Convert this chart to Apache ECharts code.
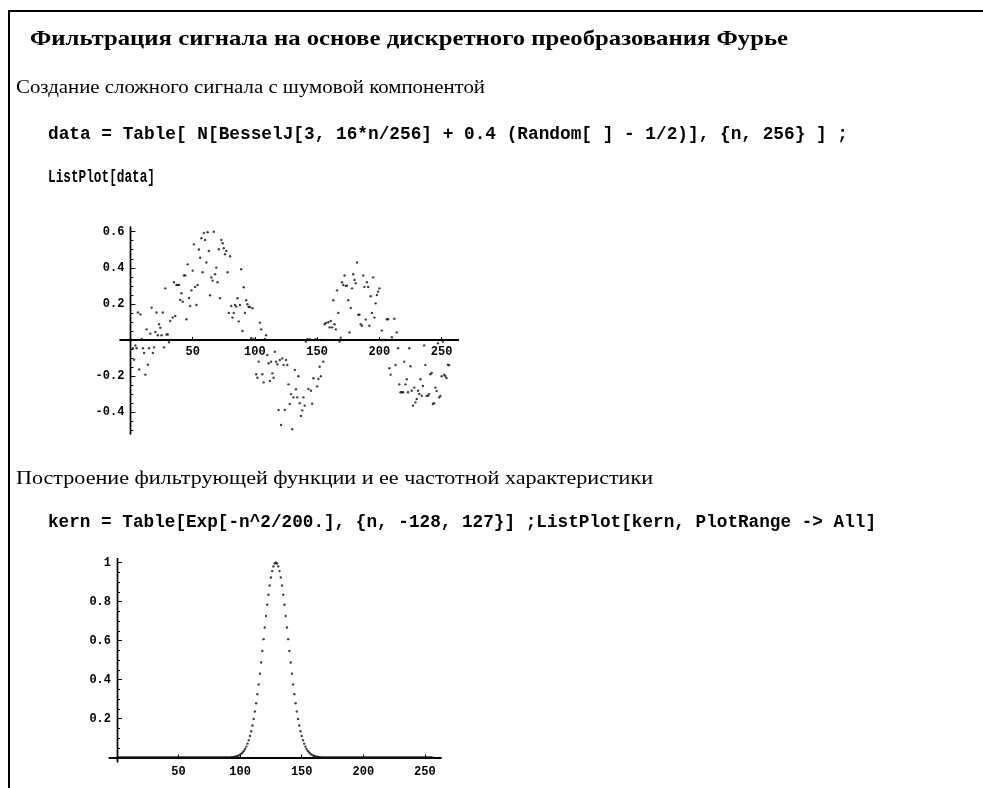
<!DOCTYPE html>
<html>
<head>
<meta charset="utf-8">
<script src="https://cdn.jsdelivr.net/npm/echarts@6/dist/echarts.min.js"></script>
<style>
  html, body { margin: 0; padding: 0; background: #fff; }
  #chart { width: 983px; height: 788px; }
</style>
</head>
<body>
<div id="chart"></div>
<script>
// ListPlot[data]: значения сигнала, n = 1..256
var signal = [
  0.000, -0.046, -0.109, -0.031, -0.046, 0.152, -0.163, 0.142, 0.006, -0.046,
  -0.072, -0.192, 0.059, -0.137, -0.046, 0.035, 0.179, -0.072, -0.041, 0.044,
  0.152, 0.026, 0.087, 0.068, 0.026, 0.152, -0.041, 0.286, 0.030, 0.030,
  -0.013, 0.105, 0.000, 0.124, 0.320, 0.133, 0.305, 0.305, 0.305, 0.222,
  0.259, 0.212, 0.357, 0.357, 0.115, 0.419, 0.233, 0.188, 0.275, 0.384,
  0.530, 0.294, 0.194, 0.305, 0.501, 0.456, 0.564, 0.375, 0.593, 0.554,
  0.429, 0.597, 0.493, 0.248, 0.346, 0.329, 0.600, 0.364, 0.401, 0.320,
  0.503, 0.231, 0.554, 0.536, 0.508, 0.475, 0.493, 0.375, 0.150, 0.464,
  0.188, 0.124, 0.150, 0.194, 0.185, 0.231, 0.103, 0.194, 0.392, 0.050,
  0.292, 0.150, 0.220, 0.198, 0.183, 0.183, 0.010, 0.176, 0.005, 0.000,
  -0.190, -0.209, -0.120, 0.096, 0.059, -0.190, -0.235, 0.005, 0.026, -0.083,
  -0.129, -0.227, -0.120, -0.185, -0.209, -0.065, -0.120, -0.135, -0.388, -0.111,
  -0.471, -0.102, -0.139, -0.388, -0.111, -0.139, -0.246, -0.355, -0.300, -0.495,
  -0.318, -0.166, -0.273, -0.318, -0.201, -0.350, -0.421, -0.390, -0.318, -0.364,
  -0.009, 0.004, -0.272, 0.004, -0.281, -0.353, -0.212, 0.000, 0.004, -0.257,
  -0.216, -0.148, -0.201, -0.065, -0.120, 0.087, 0.094, 0.000, 0.098, 0.070,
  0.105, 0.070, 0.220, 0.087, 0.059, 0.275, 0.150, -0.009, 0.013, 0.320,
  0.305, 0.357, 0.300, 0.301, 0.220, 0.042, 0.177, 0.286, 0.364, 0.333,
  0.314, 0.429, 0.140, 0.140, 0.087, 0.079, 0.357, 0.294, 0.113, 0.320,
  0.294, 0.079, 0.242, 0.150, 0.347, 0.124, 0.203, 0.249, 0.268, 0.286,
  0.000, 0.052, 0.000, 0.000, 0.000, 0.115, 0.115, -0.157, -0.192, 0.015,
  0.000, 0.118, -0.139, 0.042, -0.046, -0.246, -0.290, -0.290, -0.290, -0.120,
  -0.246, -0.218, -0.290, -0.046, -0.146, -0.281, -0.364, -0.264, -0.346, -0.327,
  -0.281, -0.299, -0.218, -0.309, -0.255, -0.030, -0.139, -0.310, -0.309, -0.300,
  -0.190, -0.183, -0.355, -0.350, -0.264, -0.283, -0.018, -0.318, -0.310, -0.201,
  -0.009, -0.192, -0.200, -0.211, -0.137, -0.140
];

// ListPlot[kern]: n = -128..127
var kern = [
  0,0,0,0,0,0,0,0,0,0,0,0,0,0,0,0,0,0,0,0,
  0,0,0,0,0,0,0,0,0,0,0,0,0,0,0,0,0,0,0,0,
  0,0,0,0,0,0,0,0,0,0,0,0,0,0,0,0,0,0,0,0,
  0,0,0,0,0,0,0,0,0,0,0,0,0,0,0,0,0,0,0,0,
  0,0,0,0,0,0,0,0,0,0,0,0,
  0.0015, 0.002, 0.003, 0.004, 0.006, 0.008, 0.011, 0.015, 0.020, 0.026,
  0.034, 0.044, 0.056, 0.071, 0.089, 0.110, 0.135, 0.164, 0.198, 0.236,
  0.278, 0.325, 0.375, 0.430, 0.487, 0.546, 0.607, 0.667, 0.726, 0.783,
  0.835, 0.882, 0.923, 0.956, 0.980, 0.995, 1.000, 0.995, 0.980, 0.956,
  0.923, 0.882, 0.835, 0.783, 0.726, 0.667, 0.607, 0.546, 0.487, 0.430,
  0.375, 0.325, 0.278, 0.236, 0.198, 0.164, 0.135, 0.110, 0.089, 0.071,
  0.056, 0.044, 0.034, 0.026, 0.020, 0.015, 0.011, 0.008, 0.006, 0.004,
  0.003, 0.002, 0.0015,
  0,0,0,0,0,0,0,0,0,0,0,0,0,0,0,0,0,0,0,0,
  0,0,0,0,0,0,0,0,0,0,0,0,0,0,0,0,0,0,0,0,
  0,0,0,0,0,0,0,0,0,0,0,0,0,0,0,0,0,0,0,0,
  0,0,0,0,0,0,0,0,0,0,0,0,0,0,0,0,0,0,0,0,
  0,0,0,0,0,0,0,0,0,0,0
];

// подписи осей
var xTicks = [50, 100, 150, 200, 250];
var y1Ticks = [-0.4, -0.2, 0.2, 0.4, 0.6];
var y1Minor = [-0.5, -0.45, -0.35, -0.3, -0.25, -0.15, -0.1, -0.05, 0.05, 0.1, 0.15, 0.25, 0.3, 0.35, 0.45, 0.5, 0.55];
var y2Ticks = [0.2, 0.4, 0.6, 0.8, 1];
var y2Minor = [0.05, 0.1, 0.15, 0.25, 0.3, 0.35, 0.45, 0.5, 0.55, 0.65, 0.7, 0.75, 0.85, 0.9, 0.95];

// тексты блокнота
var texts = [
  {t: 'Фильтрация сигнала на основе дискретного преобразования Фурье', x0: 30, x1: 788, y: 40, font: 'bold 21px "Liberation Serif"'},
  {t: 'Создание сложного сигнала с шумовой компонентой', x0: 16, x1: 485, y: 88, font: '19px "Liberation Serif"'},
  {t: 'data = Table[ N[BesselJ[3, 16*n/256] + 0.4 (Random[ ] - 1/2)], {n, 256} ] ;', x0: 48, x1: 848, y: 134, font: 'bold 18px "Liberation Mono"'},
  {t: 'ListPlot[data]', x0: 48, x1: 155, y: 177, font: 'bold 18px "Liberation Mono"'},
  {t: 'Построение фильтрующей функции и ее частотной характеристики', x0: 16, x1: 653, y: 479, font: '19px "Liberation Serif"'},
  {t: 'kern = Table[Exp[-n^2/200.], {n, -128, 127}] ;ListPlot[kern, PlotRange -> All]', x0: 48, x1: 876, y: 522, font: 'bold 18px "Liberation Mono"'}
];

var ctx = document.createElement('canvas').getContext('2d');
function textItem(d) {
  ctx.font = d.font;
  var w = ctx.measureText(d.t).width;
  return {
    type: 'text', x: d.x0, y: d.y, scaleX: (d.x1 - d.x0) / w, silent: true,
    style: {text: d.t, font: d.font, fill: '#000', textAlign: 'left', textVerticalAlign: 'middle', align: 'left', verticalAlign: 'middle'}
  };
}

var labelStyle = {color: '#000', fontFamily: 'Liberation Mono', fontWeight: 'bold', fontSize: 12};

function fmt(v) {
  return v === 1 ? '1' : v.toFixed(1);
}

// оси рисуются через offset: линия, засечки и подписи стоят на нуле другой оси
function xAxisOf(grid, min, max, offset, margin) {
  return {
    type: 'value', gridIndex: grid, min: min, max: max, position: 'bottom', offset: offset,
    axisLine: {onZero: false, lineStyle: {color: '#000', width: 1.8}},
    axisTick: {inside: true, length: 3, customValues: xTicks, lineStyle: {color: '#000', width: 1}},
    axisLabel: Object.assign({customValues: xTicks, margin: margin}, labelStyle),
    splitLine: {show: false}
  };
}

function yAxisOf(grid, min, max, offset, ticks, len, labels) {
  return {
    type: 'value', gridIndex: grid, min: min, max: max, position: 'left', offset: offset,
    axisLine: {onZero: false, lineStyle: {color: '#000', width: 1.4}},
    axisTick: {inside: true, length: len, customValues: ticks, lineStyle: {color: '#000', width: 1}},
    axisLabel: labels ? Object.assign({customValues: ticks, margin: 6, formatter: fmt}, labelStyle) : {show: false},
    splitLine: {show: false}
  };
}

var dotStyle = {color: '#111'};

var option = {
  animation: false,
  backgroundColor: '#fff',
  grid: [
    {left: 120.1, top: 227, width: 338.2, height: 207, containLabel: false, outerBoundsMode: 'none'},
    {left: 109.3, top: 558.6, width: 331.7, height: 203.2, containLabel: false, outerBoundsMode: 'none'}
  ],
  xAxis: [
    xAxisOf(0, -8.3, 263.4, -94, 6),
    xAxisOf(1, -6.25, 263.1, -4.3, 8)
  ],
  yAxis: [
    yAxisOf(0, -0.521, 0.626, -10.3, y1Ticks, 5, true),
    yAxisOf(0, -0.521, 0.626, -10.3, y1Minor, 3, false),
    yAxisOf(1, -0.022, 1.02, -7.7, y2Ticks, 5, true),
    yAxisOf(1, -0.022, 1.02, -7.7, y2Minor, 3, false)
  ],
  graphic: [
    {type: 'polyline', silent: true, shape: {points: [[9, 788], [9, 11], [983, 11]]}, style: {stroke: '#000', lineWidth: 2, fill: null}}
  ].concat(texts.map(textItem)),
  series: [
    {
      type: 'scatter', xAxisIndex: 0, yAxisIndex: 0, symbolSize: 2.4, itemStyle: dotStyle, silent: true,
      data: signal.map(function (v, i) { return [i + 1, v]; })
    },
    {
      type: 'scatter', xAxisIndex: 1, yAxisIndex: 2, symbolSize: 2.4, itemStyle: dotStyle, silent: true,
      data: kern.map(function (v, i) { return [i + 1, v]; })
    }
  ]
};

var myChart = echarts.init(document.getElementById('chart'));
myChart.setOption(option);
</script>
</body>
</html>
